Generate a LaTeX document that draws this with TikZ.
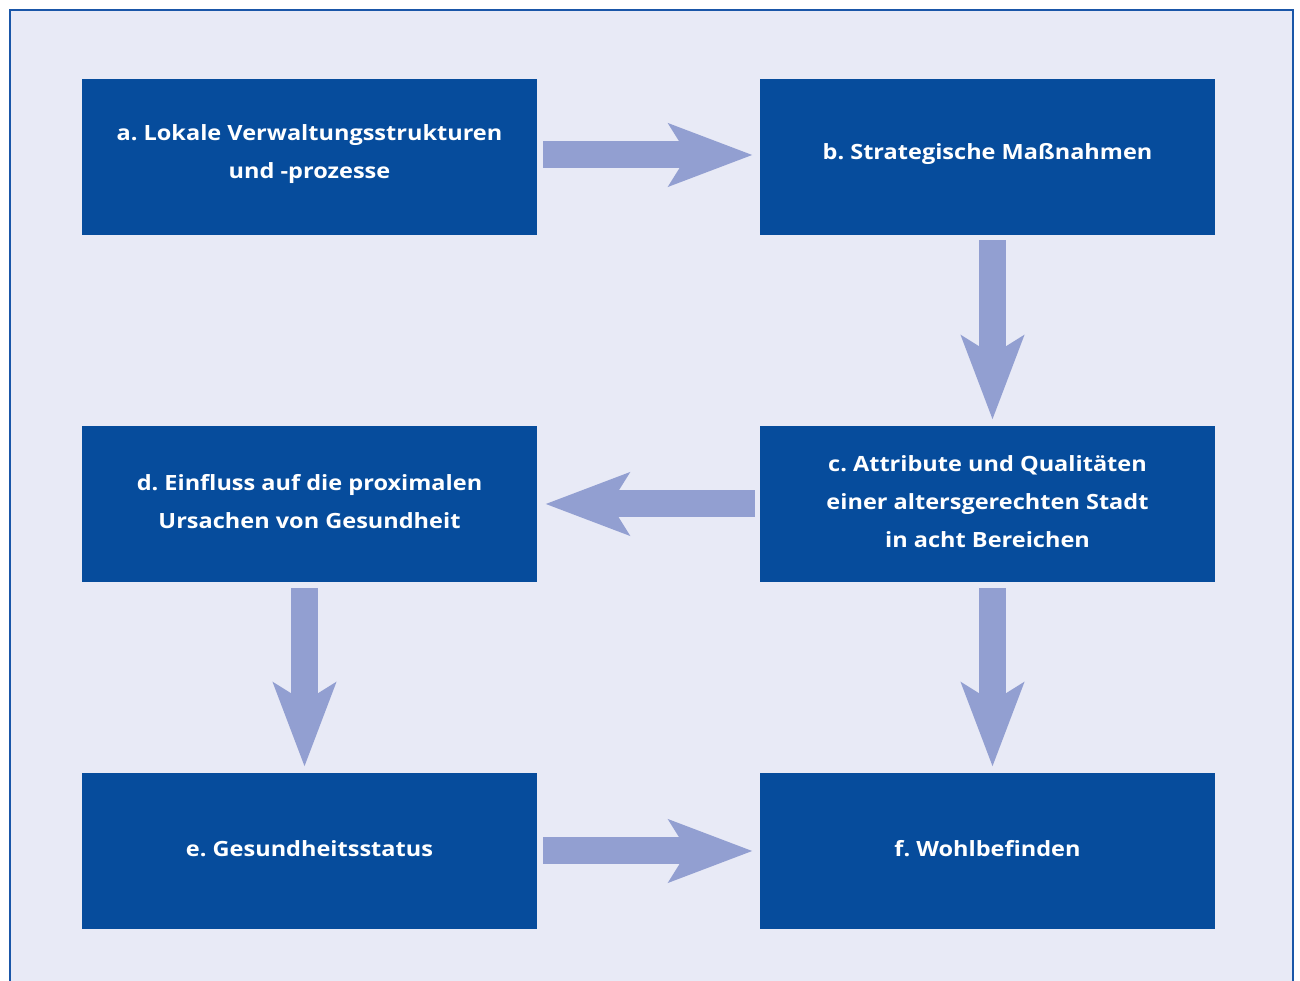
\documentclass[tikz,border=0pt]{standalone}
\usepackage{fontspec}
\setmainfont{Open Sans}
\newfontfamily\boxfont{Open Sans}[FakeStretch=1.12]
\usetikzlibrary{arrows.meta,calc}
\definecolor{boxblue}{RGB}{6,76,156}
\definecolor{arrowblue}{RGB}{146,159,209}
\definecolor{bglav}{RGB}{232,234,246}
\definecolor{frameblue}{RGB}{26,86,168}
\tikzset{
  stepbox/.style={fill=boxblue, draw=none, minimum width=455pt, minimum height=156pt,
    inner sep=0pt},
  steptext/.style={text=white, font=\boxfont\fontsize{21}{38}\selectfont\bfseries\frenchspacing,
    align=center, inner sep=0pt, yshift=2.5pt},
  bigarrow/.style={draw=arrowblue, line width=27pt,
    -{Stealth[length=83pt, width=61pt, inset=18pt, fill=arrowblue]}},
}
\begin{document}
\begin{tikzpicture}[x=1pt,y=1pt]
\useasboundingbox (0,0) rectangle (1300,981);
\fill[white] (0,0) rectangle (1300,981);
\fill[bglav] (10,0) rectangle (1293,971);
\draw[frameblue, line width=2.5pt] (10,0) -- (10,971) -- (1293,971) -- (1293,0);
\node[stepbox, label={[steptext]center:{a. Lokale Verwaltungsstrukturen\\und -prozesse}}] (a) at (309.5,824) {};
\node[stepbox, label={[steptext]center:{b. Strategische Maßnahmen}}] (b) at (987.5,824) {};
\node[stepbox, label={[steptext]center:{c. Attribute und Qualitäten\\einer altersgerechten Stadt\\in acht Bereichen}}] (c) at (987.5,477) {};
\node[stepbox, label={[steptext]center:{d. Einfluss auf die proximalen\\Ursachen von Gesundheit}}] (d) at (309.5,477) {};
\node[stepbox, label={[steptext]center:{e. Gesundheitsstatus}}] (e) at (309.5,130) {};
\node[stepbox, label={[steptext]center:{f. Wohlbefinden}}] (f) at (987.5,130) {};
\draw[bigarrow] ($(a.east)+(6,2)$) -- ($(b.west)+(-7,2)$);
\draw[bigarrow] ($(b.south)+(5,-5)$) -- ($(c.north)+(5,6)$);
\draw[bigarrow] ($(c.west)+(-5,0)$) -- ($(d.east)+(8,0)$);
\draw[bigarrow] ($(d.south)+(-5,-6)$) -- ($(e.north)+(-5,6)$);
\draw[bigarrow] ($(c.south)+(5,-6)$) -- ($(f.north)+(5,6)$);
\draw[bigarrow] ($(e.east)+(6,0)$) -- ($(f.west)+(-7,0)$);
\end{tikzpicture}
\end{document}
